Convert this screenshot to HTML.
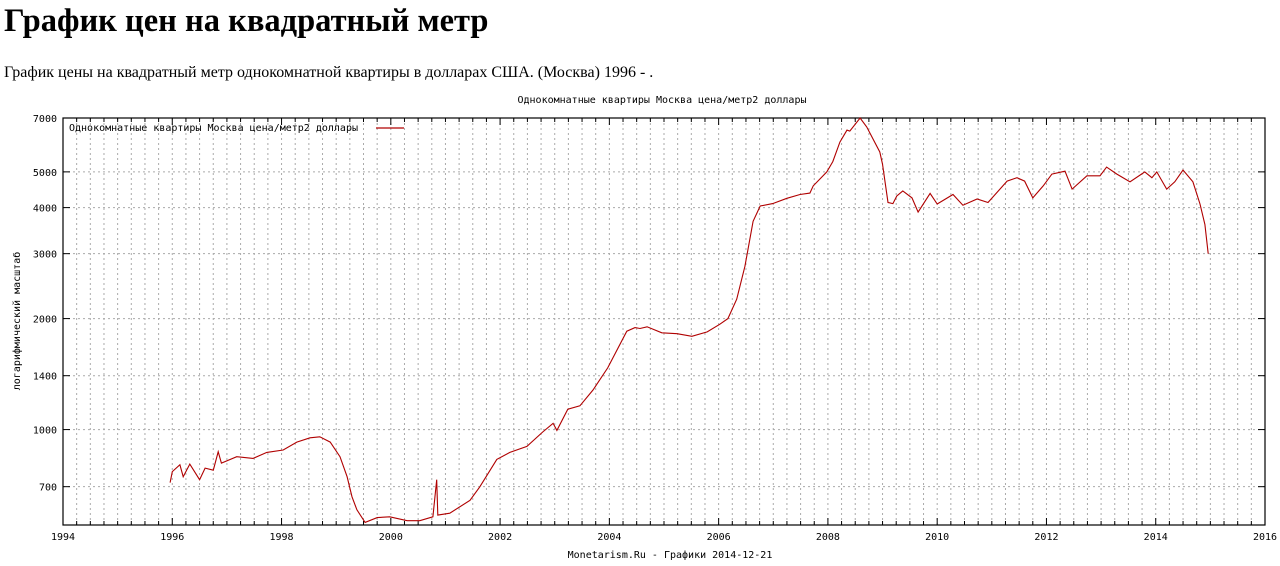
<!DOCTYPE html>
<html><head><meta charset="utf-8">
<style>
body{margin:0;background:#fff;width:1280px;height:566px;overflow:hidden;position:relative}
h1{position:absolute;left:4px;top:3px;margin:0;font:bold 32.5px "Liberation Serif","Noto Serif CJK SC",serif;color:#000}
p{position:absolute;left:4px;top:64px;margin:0;font:16px "Liberation Serif","Noto Serif CJK SC",serif;color:#000}
svg{position:absolute;left:0;top:0}
svg text{font-family:"DejaVu Sans Mono","Liberation Mono",monospace;font-size:10px;fill:#000}
</style></head><body>
<h1>График цен на квадратный метр</h1>
<p>График цены на квадратный метр однокомнатной квартиры в долларах США. (Москва) 1996 - .</p>
<svg id="chart" width="1280" height="566" xmlns="http://www.w3.org/2000/svg"></svg>
<script>
const years=[1995.96,1996.0,1996.14,1996.2,1996.32,1996.5,1996.6,1996.75,1996.84,1996.9,1997.18,1997.48,1997.73,1998.03,1998.28,1998.52,1998.7,1998.89,1999.07,1999.2,1999.29,1999.38,1999.53,1999.75,1999.98,2000.3,2000.53,2000.77,2000.84,2000.86,2001.08,2001.45,2001.63,2001.94,2002.18,2002.49,2002.78,2002.97,2003.04,2003.24,2003.46,2003.7,2003.97,2004.32,2004.47,2004.56,2004.69,2004.96,2005.24,2005.51,2005.79,2006.02,2006.17,2006.33,2006.48,2006.63,2006.76,2006.99,2007.25,2007.49,2007.67,2007.73,2007.98,2008.09,2008.22,2008.35,2008.4,2008.59,2008.71,2008.95,2009.0,2009.1,2009.19,2009.26,2009.37,2009.54,2009.65,2009.87,2010.0,2010.29,2010.47,2010.73,2010.93,2011.28,2011.46,2011.6,2011.75,2011.94,2012.1,2012.34,2012.47,2012.74,2012.98,2013.1,2013.29,2013.53,2013.8,2013.93,2014.02,2014.2,2014.35,2014.5,2014.68,2014.81,2014.9,2014.96];
const prices=[718,769,803,745,806,731,786,776,871,811,844,835,867,880,925,950,956,925,844,745,657,606,560,577,580,566,566,580,731,586,593,643,700,830,867,900,985,1040,995,1136,1160,1280,1470,1848,1890,1880,1900,1830,1820,1790,1840,1930,2000,2258,2770,3673,4040,4100,4240,4340,4380,4580,5000,5330,6020,6490,6450,7000,6620,5660,5250,4130,4100,4300,4440,4250,3890,4370,4090,4340,4060,4220,4130,4720,4820,4720,4250,4580,4930,5020,4490,4880,4880,5150,4930,4700,5000,4820,5000,4490,4700,5060,4700,4090,3600,3000];
const yTicks=[700,1000,1400,2000,3000,4000,5000,7000];
const xTicks=[1994,1996,1998,2000,2002,2004,2006,2008,2010,2012,2014,2016];
const L=63,R=1265,T=118,B=525,X0=1994,X1=2016,YMIN=551,YMAX=7000;
const xs=v=>L+(v-X0)/(X1-X0)*(R-L);
const ys=v=>B-(Math.log(v)-Math.log(YMIN))/(Math.log(YMAX)-Math.log(YMIN))*(B-T);
const svg=document.getElementById('chart');const NS='http://www.w3.org/2000/svg';
function mk(t,a,txt){const e=document.createElementNS(NS,t);for(const k in a)e.setAttribute(k,a[k]);if(txt!==undefined)e.textContent=txt;svg.appendChild(e);return e;}
for(let q=1;q<(X1-X0)*4;q++){const x=xs(X0+q/4);
 const g=mk('line',{x1:x,x2:x,y1:T,y2:B,stroke:'#aaa','stroke-dasharray':'2,3','stroke-width':1});
 
 const len=(q%8===0)?7:4;
 const t1=mk('line',{x1:x,x2:x,y1:B,y2:B-len,stroke:'#000'});
 const t2=mk('line',{x1:x,x2:x,y1:T,y2:T+len,stroke:'#000'});}
yTicks.forEach(v=>{const y=ys(v);
 const g=mk('line',{x1:L,x2:R,y1:y,y2:y,stroke:'#aaa','stroke-dasharray':'2,3'});
 const t=mk('line',{x1:L,x2:L+7,y1:y,y2:y,stroke:'#000'});
 const t2=mk('line',{x1:R,x2:R-7,y1:y,y2:y,stroke:'#000'});
 const l=mk('text',{x:L-6,y:y+4,'text-anchor':'end'},String(v));});
xTicks.forEach(v=>{const l=mk('text',{x:xs(v),y:B+15,'text-anchor':'middle'},String(v));});
const fr=mk('rect',{x:L,y:T,width:R-L,height:B-T,fill:'none',stroke:'#000','stroke-width':1.2});
const pts=years.map((yr,i)=>xs(yr).toFixed(1)+','+ys(prices[i]).toFixed(1)).join(' ');
const ln=mk('polyline',{points:pts,fill:'none',stroke:'#b00000','stroke-width':1.1});
const tt=mk('text',{x:662,y:103,'text-anchor':'middle'},'Однокомнатные квартиры Москва цена/метр2 доллары');
const lg=mk('text',{x:69,y:131},'Однокомнатные квартиры Москва цена/метр2 доллары');
const ll=mk('line',{x1:376,x2:404,y1:128,y2:128,stroke:'#b00000','stroke-width':1.2});
const ya=mk('text',{x:20,y:321,'text-anchor':'middle',transform:'rotate(-90 20 321)'},'логарифмический масштаб');
const ft=mk('text',{x:670,y:558,'text-anchor':'middle'},'Monetarism.Ru - Графики  2014-12-21');
</script>
</body></html>
